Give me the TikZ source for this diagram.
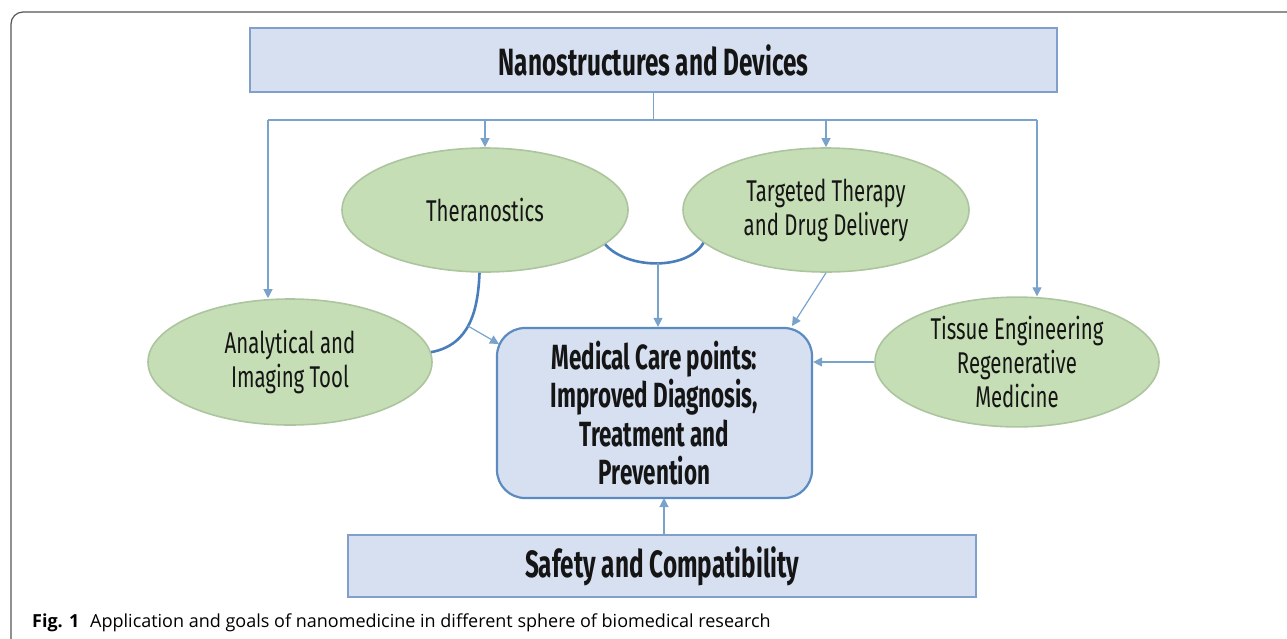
\documentclass[tikz,border=0pt]{standalone}
\usepackage{fontspec}
\usetikzlibrary{arrows.meta,shapes.geometric}
\newfontfamily\agency[FakeStretch=0.68]{Fira Sans}
\newfontfamily\agencyB[FakeStretch=0.64]{Fira Sans}
\newfontfamily\capfont{Open Sans}
\definecolor{boxfill}{HTML}{D6E0F1}
\definecolor{boxline}{HTML}{809FCB}
\definecolor{medline}{HTML}{5B8BC0}
\definecolor{ellfill}{HTML}{C6DEB5}
\definecolor{ellline}{HTML}{ADC59F}
\definecolor{conn}{HTML}{7AA3CC}
\definecolor{arc}{HTML}{4A7EBB}
\definecolor{framecol}{HTML}{555555}
\definecolor{txt}{HTML}{151515}
\tikzset{
  topbox/.style={draw=boxline, line width=2.8pt, fill=boxfill, inner sep=0pt,
    font=\agencyB\bfseries\fontsize{38}{40}\selectfont, text=txt},
  medbox/.style={draw=medline, line width=2.2pt, fill=boxfill, rounded corners=28pt,
    inner sep=0pt, align=center, text=txt,
    font=\agencyB\bfseries\fontsize{35}{38.5}\selectfont},
  ell/.style={ellipse, draw=ellline, line width=1.6pt, fill=ellfill, inner sep=0pt,
    align=center, text=txt, font=\agency\fontsize{30}{34}\selectfont},
  line/.style={draw=conn, line width=1.2pt},
  arr/.style={line, -{Triangle[width=9pt,length=9pt]}},
  arcline/.style={draw=arc, line width=2.6pt}
}
\begin{document}
\begin{tikzpicture}[x=1pt,y=-1pt]
\useasboundingbox (0,0) rectangle (1287,638);
% frame
\draw[framecol, line width=1.2pt, rounded corners=12pt] (11,640) -- (11,12) -- (1290,12);
% nodes
\node[topbox, minimum width=807, minimum height=64] (nano) at (653.5,60) {Nanostructures and Devices};
\node[ell, minimum width=286, minimum height=124] (thera) at (485,210) {Theranostics};
\node[ell, minimum width=286, minimum height=124] (targ) at (826,210) {Targeted Therapy\\and Drug Delivery};
\node[ell, minimum width=284, minimum height=126] (ana) at (290,362) {Analytical and\\Imaging Tool};
\node[ell, minimum width=284, minimum height=126] (tiss) at (1017,362) {Tissue Engineering\\Regenerative\\Medicine};
\node[medbox, minimum width=315, minimum height=170] (med) at (654.5,413) {Medical Care points:\\Improved Diagnosis,\\Treatment and\\Prevention};
\node[topbox, minimum width=628, minimum height=62] (safe) at (662,566) {Safety and Compatibility};
% distribution lines
\coordinate (hl) at (268,120);
\coordinate (hr) at (1037,120);
\draw[line] (nano.south) -- (nano.south |- hl);
\draw[line] (hl) -- (hr);
\draw[arr] (hl) -- (hl |- ana.north);
\draw[arr] (thera.north |- hl) -- (thera.north);
\draw[arr] (targ.north |- hl) -- (targ.north);
\draw[arr] (hr) -- (hr |- tiss.north);
% theranostics -> analytical curve
\coordinate (c1) at (468,326);
\draw[arcline] (thera.265) .. controls (478,310) and (470,345) .. (ana.4);
\draw[arr] (c1) -- (499,344);
% theranostics - targeted arc
\coordinate (c2) at (658,263);
\draw[arcline] (thera.-16) .. controls (628,270) and (688,270) .. (targ.195);
\draw[arr] (c2) -- (c2 |- med.north);
\draw[arr] (targ.south) -- (792,326);
\draw[arr] (tiss.west) -- (tiss.west -| med.east);
\draw[arr] (safe.north -| 664,0) -- (664,498);
% caption
\node[anchor=base west, inner sep=0pt, font=\capfont\fontsize{18}{20}\selectfont] (cap) at (32,627)
  {\textbf{Fig. 1}\hspace{0.6em}Application and goals of nanomedicine in different sphere of biomedical research};
\end{tikzpicture}
\end{document}
